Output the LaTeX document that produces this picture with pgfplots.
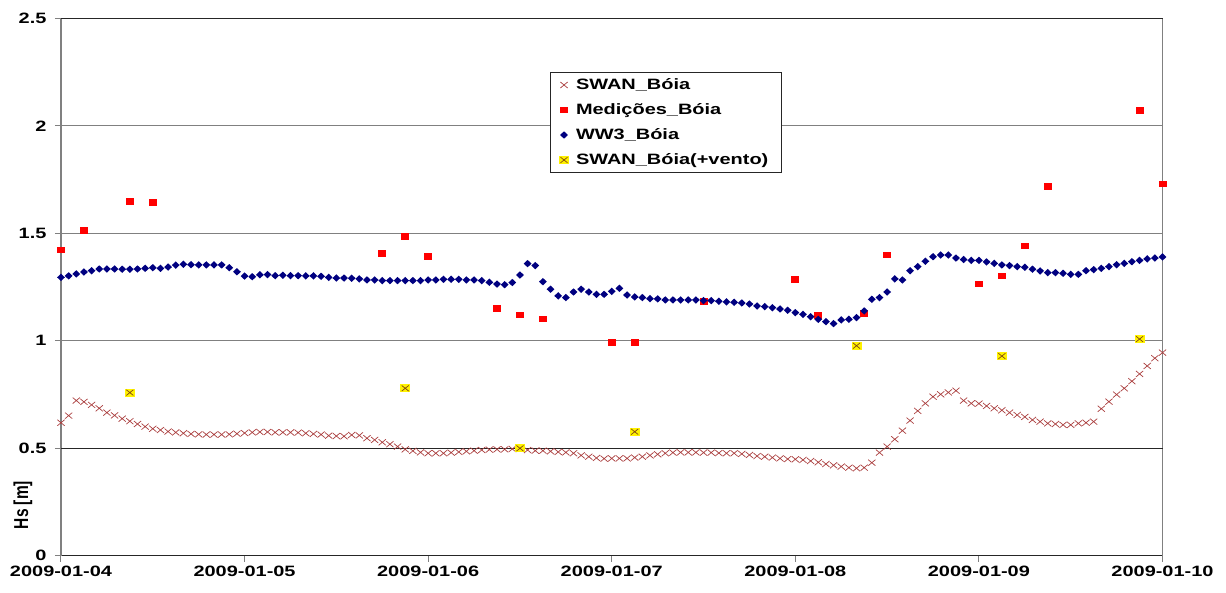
\documentclass[border=0pt]{standalone}
\usepackage{fontspec}
\setmainfont{Liberation Sans}[FakeStretch=1.33]
\newfontfamily\plainfont{Liberation Sans}
\usepackage{pgfplots}
\pgfplotsset{compat=1.18}
\definecolor{swanc}{RGB}{170,62,62}
\definecolor{medc}{RGB}{255,0,0}
\definecolor{wwc}{RGB}{0,0,128}
\definecolor{yelxc}{RGB}{130,70,20}
\definecolor{gridc}{RGB}{128,128,128}

\pgfdeclareplotmark{swanx}{%
  \pgfsetlinewidth{0.7pt}%
  \pgfpathmoveto{\pgfqpoint{-3.6pt}{-3pt}}\pgfpathlineto{\pgfqpoint{3.6pt}{3pt}}%
  \pgfpathmoveto{\pgfqpoint{-3.6pt}{3pt}}\pgfpathlineto{\pgfqpoint{3.6pt}{-3pt}}%
  \pgfusepathqstroke}
\pgfdeclareplotmark{medsq}{%
  \pgfpathrectangle{\pgfqpoint{-4pt}{-3.4pt}}{\pgfqpoint{8pt}{6.8pt}}%
  \pgfusepathqfill}
\pgfdeclareplotmark{wwdiam}{%
  \pgfpathmoveto{\pgfqpoint{-3.9pt}{0pt}}\pgfpathlineto{\pgfqpoint{0pt}{3.7pt}}%
  \pgfpathlineto{\pgfqpoint{3.9pt}{0pt}}\pgfpathlineto{\pgfqpoint{0pt}{-3.7pt}}%
  \pgfpathclose\pgfusepathqfill}
\pgfdeclareplotmark{yelx}{%
  \pgfpathrectangle{\pgfqpoint{-5pt}{-4pt}}{\pgfqpoint{10pt}{8pt}}%
  \pgfsetfillcolor{yellow}\pgfusepathqfill
  \pgfsetstrokecolor{yelxc}\pgfsetlinewidth{0.7pt}%
  \pgfpathmoveto{\pgfqpoint{-3.5pt}{-2.8pt}}\pgfpathlineto{\pgfqpoint{3.5pt}{2.8pt}}%
  \pgfpathmoveto{\pgfqpoint{-3.5pt}{2.8pt}}\pgfpathlineto{\pgfqpoint{3.5pt}{-2.8pt}}%
  \pgfusepathqstroke}

\begin{document}
\begin{tikzpicture}
\begin{axis}[
  name=ax,
  scale only axis, width=1101.5pt, height=537.5pt,
  xmin=0, xmax=144, ymin=0, ymax=2.5,
  clip=false,
  xtick={0,24,48,72,96,120,144},
  xticklabels={2009-01-04,2009-01-05,2009-01-06,2009-01-07,2009-01-08,2009-01-09,2009-01-10},
  ytick={0,1,1.5,2},
  extra y ticks={0.5,2.5},
  extra y tick style={grid style={black!85, line width=1pt}},
  ymajorgrids,
  grid style={gridc, line width=1pt},
  separate axis lines,
  x axis line style={black!85, line width=1pt},
  y axis line style={gridc, line width=1.2pt},
  tick align=outside, xtick pos=bottom, ytick pos=left,
  major tick length=6pt,
  tick style={gridc, line width=1pt},
  ticklabel style={font=\bfseries\fontsize{15}{17}\selectfont},
  /pgf/number format/assume math mode=true,
  yticklabel style={xshift=-5pt},
  xticklabel style={yshift=-1pt},
  ylabel={\scalebox{1}[1.3]{\plainfont\bfseries\fontsize{15.5}{17}\selectfont Hs [m]}},
  ylabel style={at={(axis description cs:-0.0345,0.0945)}, anchor=center},
  legend style={at={(rel axis cs:0.444,0.9)}, anchor=north west,
    draw=black!85, line width=0.9pt, fill=white, inner xsep=8.5pt, inner ysep=0pt,
    font=\bfseries\fontsize{15}{17}\selectfont, row sep=0pt, column sep=2.5pt,
    nodes={text height=11.5pt, text depth=3pt, inner ysep=5.25pt, inner xsep=4.5pt}},
  legend cell align=left,
]
% SWAN_Boia
\addplot[only marks, mark=swanx, color=swanc] coordinates {
(0,0.619)(1,0.652)(2,0.722)(3,0.716)(4,0.702)(5,0.686)(6,0.666)(7,0.653)(8,0.638)(9,0.626)
(10,0.613)(11,0.601)(12,0.591)(13,0.585)(14,0.578)(15,0.574)(16,0.570)(17,0.567)(18,0.565)(19,0.564)
(20,0.564)(21,0.564)(22,0.565)(23,0.568)(24,0.571)(25,0.574)(26,0.576)(27,0.576)(28,0.574)(29,0.574)
(30,0.574)(31,0.573)(32,0.570)(33,0.567)(34,0.564)(35,0.559)(36,0.557)(37,0.556)(38,0.562)(39,0.560)
(40,0.547)(41,0.539)(42,0.528)(43,0.519)(44,0.508)(45,0.495)(46,0.488)(47,0.481)(48,0.477)(49,0.477)
(50,0.477)(51,0.480)(52,0.483)(53,0.486)(54,0.489)(55,0.492)(56,0.494)(57,0.495)(58,0.495)(59,0.497)
(60,0.497)(61,0.492)(62,0.489)(63,0.489)(64,0.486)(65,0.483)(66,0.481)(67,0.477)(68,0.467)(69,0.461)
(70,0.455)(71,0.452)(72,0.453)(73,0.453)(74,0.453)(75,0.457)(76,0.461)(77,0.467)(78,0.472)(79,0.477)
(80,0.480)(81,0.481)(82,0.481)(83,0.481)(84,0.480)(85,0.480)(86,0.478)(87,0.477)(88,0.477)(89,0.474)
(90,0.469)(91,0.464)(92,0.461)(93,0.457)(94,0.453)(95,0.450)(96,0.449)(97,0.446)(98,0.441)(99,0.435)
(100,0.427)(101,0.421)(102,0.415)(103,0.410)(104,0.407)(105,0.410)(106,0.433)(107,0.480)(108,0.508)(109,0.542)
(110,0.582)(111,0.629)(112,0.674)(113,0.709)(114,0.740)(115,0.751)(116,0.760)(117,0.768)(118,0.722)(119,0.709)
(120,0.708)(121,0.697)(122,0.686)(123,0.677)(124,0.666)(125,0.655)(126,0.646)(127,0.632)(128,0.624)(129,0.616)
(130,0.613)(131,0.609)(132,0.609)(133,0.616)(134,0.619)(135,0.624)(136,0.684)(137,0.717)(138,0.750)(139,0.779)
(140,0.812)(141,0.846)(142,0.883)(143,0.919)(144,0.945)
};
\addlegendentry{SWAN\_Bóia}
% Medicoes_Boia
\addplot[only marks, mark=medsq, color=medc] coordinates {
(0,1.422)(3,1.512)(9,1.647)(12,1.642)(42,1.407)(45,1.484)(48,1.391)(57,1.149)(60,1.120)(63,1.101)
(72,0.991)(75,0.991)(84,1.182)(96,1.286)(99,1.117)(105,1.128)(108,1.399)(120,1.264)(123,1.301)(126,1.441)
(129,1.717)(141,2.073)(144,1.729)
};
\addlegendentry{Medições\_Bóia}
% WW3_Boia
\addplot[only marks, mark=wwdiam, color=wwc] coordinates {
(0,1.295)(1,1.302)(2,1.311)(3,1.320)(4,1.326)(5,1.334)(6,1.334)(7,1.334)(8,1.333)(9,1.333)
(10,1.334)(11,1.337)(12,1.340)(13,1.337)(14,1.343)(15,1.352)(16,1.356)(17,1.354)(18,1.353)(19,1.353)
(20,1.353)(21,1.353)(22,1.340)(23,1.321)(24,1.301)(25,1.298)(26,1.307)(27,1.308)(28,1.303)(29,1.305)
(30,1.303)(31,1.303)(32,1.302)(33,1.302)(34,1.300)(35,1.295)(36,1.292)(37,1.292)(38,1.291)(39,1.288)
(40,1.283)(41,1.283)(42,1.280)(43,1.280)(44,1.280)(45,1.280)(46,1.280)(47,1.280)(48,1.283)(49,1.283)
(50,1.286)(51,1.286)(52,1.286)(53,1.283)(54,1.283)(55,1.280)(56,1.272)(57,1.264)(58,1.261)(59,1.271)
(60,1.306)(61,1.359)(62,1.350)(63,1.275)(64,1.240)(65,1.209)(66,1.201)(67,1.227)(68,1.240)(69,1.227)
(70,1.216)(71,1.216)(72,1.230)(73,1.244)(74,1.213)(75,1.204)(76,1.201)(77,1.196)(78,1.195)(79,1.190)
(80,1.190)(81,1.190)(82,1.190)(83,1.190)(84,1.187)(85,1.187)(86,1.184)(87,1.181)(88,1.179)(89,1.176)
(90,1.171)(91,1.162)(92,1.159)(93,1.154)(94,1.148)(95,1.142)(96,1.131)(97,1.123)(98,1.112)(99,1.100)
(100,1.089)(101,1.080)(102,1.097)(103,1.100)(104,1.108)(105,1.139)(106,1.193)(107,1.201)(108,1.227)(109,1.288)
(110,1.283)(111,1.326)(112,1.345)(113,1.370)(114,1.391)(115,1.399)(116,1.399)(117,1.385)(118,1.378)(119,1.374)
(120,1.374)(121,1.367)(122,1.360)(123,1.353)(124,1.350)(125,1.345)(126,1.342)(127,1.333)(128,1.325)(129,1.317)
(130,1.317)(131,1.314)(132,1.309)(133,1.309)(134,1.326)(135,1.331)(136,1.337)(137,1.345)(138,1.354)(139,1.360)
(140,1.368)(141,1.374)(142,1.381)(143,1.385)(144,1.390)
};
\addlegendentry{WW3\_Bóia}
% SWAN_Boia(+vento)
\addplot[only marks, mark=yelx, color=yelxc] coordinates {
(9,0.759)(45,0.779)(60,0.500)(75,0.577)(104,0.977)(123,0.929)(141,1.008)
};
\addlegendentry{SWAN\_Bóia(+vento)}
\end{axis}
\path ([xshift=-61pt,yshift=-36.2pt]ax.south west) rectangle ([xshift=63.5pt,yshift=18.3pt]ax.north east);
\end{tikzpicture}
\end{document}
